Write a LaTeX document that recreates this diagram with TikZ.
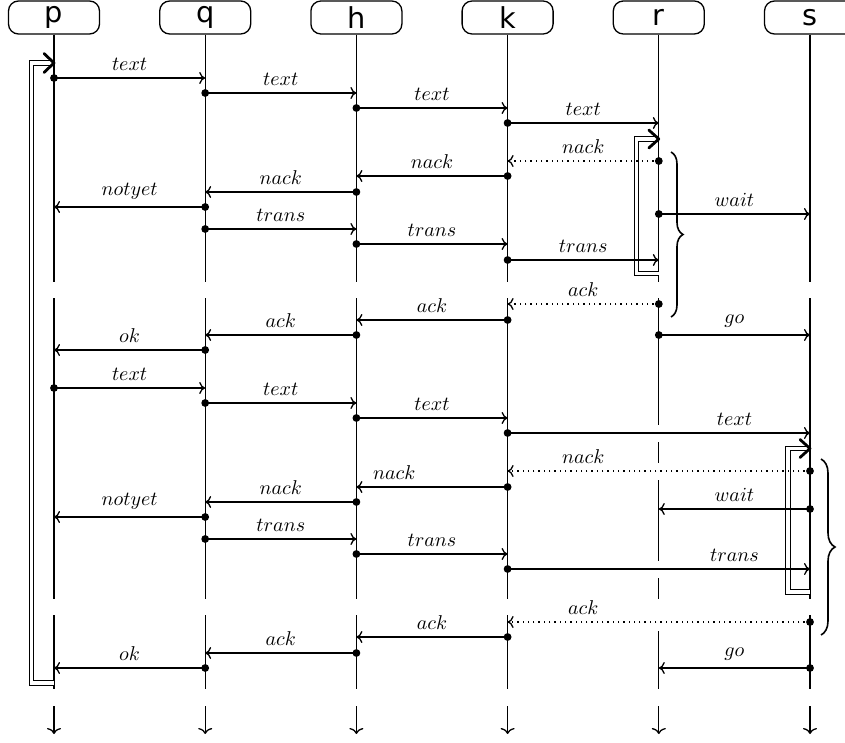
\documentclass[tikz,border=0pt]{standalone}
\usepackage{fontspec}
\newfontfamily\boxfont{DejaVu Sans}
\usetikzlibrary{arrows.meta,decorations.pathreplacing}
\newcommand\mymsg[6]{%
  \draw[#1] (#2.center |- 0,#4) -- node[lbl,pos=#5]{$#6$} (#3.center |- 0,#4);
  \fill (#2.center |- 0,#4) circle (1.95pt);}
\begin{document}
\begin{tikzpicture}[x=0.5pt,y=-0.5pt,
  actor/.style={draw, line width=0.65pt, rounded corners=5pt, minimum width=45.5pt,
    minimum height=16.5pt, inner sep=0pt, font=\boxfont\Large},
  life/.style={line width=0.65pt},
  msg/.style={line width=0.65pt, -{Computer Modern Rightarrow[length=3pt,width=6pt]}},
  dmsg/.style={msg, dotted},
  lbl/.style={above},
  act/.style={double, double distance=1.6pt, line width=0.5pt},
  chev/.style={line width=1.4pt, line cap=round, line join=round},
  brc/.style={decorate, decoration={brace, amplitude=6pt}, line width=0.8pt},
  endarrow/.style={life, -{Computer Modern Rightarrow[length=3pt,width=7pt]}}]
\useasboundingbox (0,0) rectangle (845,743);
% actors
\foreach \n/\x in {p/54,q/205.2,h/356.4,k/507.6,r/658.8,s/810}
  \node[actor] (\n) at (\x,17.5) {\n};
% lifelines
\foreach \n in {p,q,h,k,r,s}{
  \draw[life] (\n.south) -- (\n.center |- 0,282);
  \draw[life] (\n.center |- 0,298) -- (\n.center |- 0,599);
  \draw[life] (\n.center |- 0,615) -- (\n.center |- 0,689);
  \draw[endarrow] (\n.center |- 0,706) -- (\n.center |- 0,734);
}
% gaps where long messages cross r
\foreach \y in {433,471,569,622}
  \fill[white] (r.center |- 0,\y) ++(-4,-8.5) rectangle ++(8,17);
% activations
\draw[act] (p.center |- 0,683) -| (31.5,63) -- (p.center |- 0,63);
\draw[chev] (p.center |- 0,63) ++(-10,-9.5) -- ++(10,9.5) -- ++(-10,9.5);
\draw[act] (r.center |- 0,273.5) -| (636.5,139) -- (r.center |- 0,139);
\draw[chev] (r.center |- 0,139) ++(-10,-9) -- ++(10,9) -- ++(-10,9);
\draw[act] (s.center |- 0,592) -| (788,448.5) -- (s.center |- 0,448.5);
\draw[chev] (s.center |- 0,448.5) ++(-10,-9) -- ++(10,9) -- ++(-10,9);
% first round
\mymsg{msg}{p}{q}{78}{0.5}{text}
\mymsg{msg}{q}{h}{93}{0.5}{text}
\mymsg{msg}{h}{k}{108}{0.5}{text}
\mymsg{msg}{k}{r}{123}{0.5}{text}
\mymsg{dmsg}{r}{k}{161}{0.5}{nack}
\mymsg{msg}{k}{h}{176}{0.5}{nack}
\mymsg{msg}{h}{q}{192}{0.5}{nack}
\mymsg{msg}{q}{p}{207}{0.5}{notyet}
\mymsg{msg}{r}{s}{214}{0.5}{wait}
\mymsg{msg}{q}{h}{229}{0.5}{trans}
\mymsg{msg}{h}{k}{244}{0.5}{trans}
\mymsg{msg}{k}{r}{260}{0.5}{trans}
\mymsg{dmsg}{r}{k}{304}{0.5}{ack}
\mymsg{msg}{k}{h}{320}{0.5}{ack}
\mymsg{msg}{h}{q}{335}{0.5}{ack}
\mymsg{msg}{q}{p}{350}{0.5}{ok}
\mymsg{msg}{r}{s}{335}{0.5}{go}
% second round
\mymsg{msg}{p}{q}{388}{0.5}{text}
\mymsg{msg}{q}{h}{403}{0.5}{text}
\mymsg{msg}{h}{k}{418}{0.5}{text}
\mymsg{msg}{k}{s}{433}{0.75}{text}
\mymsg{dmsg}{s}{k}{471}{0.75}{nack}
\mymsg{msg}{k}{h}{487}{0.75}{nack}
\mymsg{msg}{h}{q}{502}{0.5}{nack}
\mymsg{msg}{q}{p}{517}{0.5}{notyet}
\mymsg{msg}{s}{r}{509}{0.5}{wait}
\mymsg{msg}{q}{h}{539}{0.5}{trans}
\mymsg{msg}{h}{k}{554}{0.5}{trans}
\mymsg{msg}{k}{s}{569}{0.75}{trans}
\mymsg{dmsg}{s}{k}{622}{0.75}{ack}
\mymsg{msg}{k}{h}{637}{0.5}{ack}
\mymsg{msg}{h}{q}{653}{0.5}{ack}
\mymsg{msg}{q}{p}{668}{0.5}{ok}
\mymsg{msg}{s}{r}{668}{0.5}{go}
% braces
\draw[brc] (671,152) -- (671,317);
\draw[brc, decoration={brace, amplitude=7pt}] (821,459) -- (821,635);
\end{tikzpicture}
\end{document}
